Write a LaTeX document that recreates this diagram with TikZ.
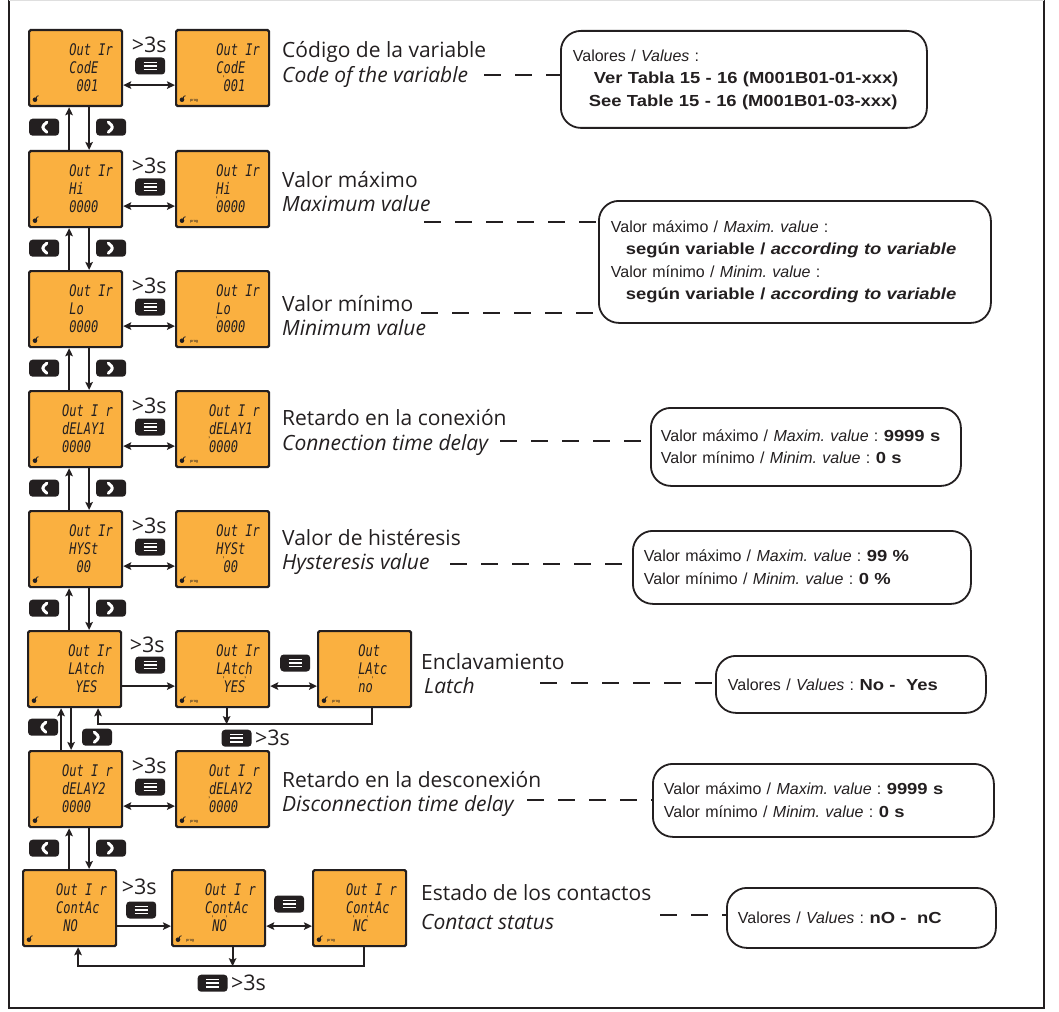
\documentclass[tikz,border=0pt]{standalone}
\usepackage{fontspec}
\setmainfont{Liberation Sans}[BoldFeatures={FakeStretch=1.15}, BoldItalicFeatures={FakeStretch=1.15}]
\newfontfamily\labelfont{Open Sans}
\newfontfamily\lcdfont{DejaVu Sans Mono}[FakeStretch=0.75]
\usetikzlibrary{arrows.meta, positioning}
\frenchspacing

\definecolor{lcdorange}{RGB}{250,176,64}
\definecolor{keyblack}{RGB}{35,31,32}
\definecolor{inkgray}{RGB}{35,31,32}

\tikzset{
    lcd/.style={rectangle, rounded corners=1.5pt, draw=inkgray, line width=2.2pt, fill=lcdorange, minimum width=93pt, minimum height=76pt, inner sep=0pt},
    lcdtext/.style={font=\lcdfont\itshape\fontsize{16}{18}\selectfont, align=left, inner sep=0pt, text=inkgray},
    progtext/.style={font=\fontsize{4}{4}\selectfont, inner sep=0pt, text=inkgray},
    menubtn/.style={rectangle, rounded corners=3.5pt, fill=keyblack, minimum width=30pt, minimum height=17pt, inner sep=0pt,
        path picture={\foreach \dy in {-3.6,0,3.6}{\draw[white, line width=1.5pt] ([xshift=-6.5pt, yshift=\dy pt]path picture bounding box.center) -- ([xshift=6.5pt, yshift=\dy pt]path picture bounding box.center);}}},
    prevbtn/.style={rectangle, rounded corners=3.5pt, fill=keyblack, minimum width=30pt, minimum height=17pt, inner sep=0pt,
        path picture={\draw[white, line width=3pt, line cap=round, line join=round] ([xshift=2.8pt, yshift=5pt]path picture bounding box.center) -- ([xshift=-2.8pt]path picture bounding box.center) -- ([xshift=2.8pt, yshift=-5pt]path picture bounding box.center);}},
    nextbtn/.style={rectangle, rounded corners=3.5pt, fill=keyblack, minimum width=30pt, minimum height=17pt, inner sep=0pt,
        path picture={\draw[white, line width=3pt, line cap=round, line join=round] ([xshift=-2.8pt, yshift=5pt]path picture bounding box.center) -- ([xshift=2.8pt]path picture bounding box.center) -- ([xshift=-2.8pt, yshift=-5pt]path picture bounding box.center);}},
    holdtext/.style={font=\labelfont\fontsize{21.5}{21.5}\selectfont, inner sep=0pt, text=inkgray},
    lbl/.style={font=\labelfont\fontsize{21}{24.5}\selectfont, align=left, anchor=west, inner sep=0pt, text=inkgray},
    infobox/.style={rectangle, rounded corners=20pt, draw=inkgray, line width=1.8pt, align=left, anchor=north west, font=\fontsize{16}{22.5}\selectfont, text=inkgray},
    arrow/.style={draw=inkgray, line width=1.8pt, -{Stealth[length=8pt, width=7.5pt, inset=1.5pt]}},
    dblarrow/.style={draw=inkgray, line width=1.8pt, {Stealth[length=8pt, width=7.5pt, inset=1.5pt]}-{Stealth[length=8pt, width=7.5pt, inset=1.5pt]}},
    dashline/.style={draw=inkgray, line width=2pt, dash pattern=on 17pt off 14pt},
    frameline/.style={draw=inkgray, line width=2.5pt}
}

% blinking tick on a display digit
\newcommand{\blnk}{\makebox[0pt]{\raisebox{0.6em}{\normalfont\fontsize{8}{8}\selectfont'}}}

% display panel: [prog]{name}{top-left}{lines}
\newcommand{\lcdpanel}[4][]{%
    \node[lcd, anchor=north west] (#2) at (#3) {};
    \node[lcdtext, anchor=north west] (#2txt) at ([xshift=34pt, yshift=-14pt]#2.north west) {#4};
    \fill[inkgray] ([xshift=7pt, yshift=7.5pt]#2.south west) circle (2.3pt);
    \draw[inkgray, line width=0.8pt] ([xshift=8.2pt, yshift=9.2pt]#2.south west) to[bend left=40] ([xshift=10.5pt, yshift=11.5pt]#2.south west);
    \if\relax\detokenize{#1}\relax\else
    \node[progtext, anchor=west] at ([xshift=15pt, yshift=6.5pt]#2.south west) {#1};
    \fi
}

\begin{document}
\begin{tikzpicture}[x=1pt, y=-1pt]
    \useasboundingbox (0,0) rectangle (1059,1011);

    % Frame
    \draw[frameline] (9,0) -- (9,1008) -- (1044,1008) -- (1044,0);
    \draw[gray!25, line width=1pt] (9,0.8) -- (1044,0.8);

    % Displays
    \lcdpanel{a1}{28,29}{~Out Ir\\~CodE\\~~001}
    \lcdpanel[prog]{b1}{175,29}{~Out Ir\\~CodE\\~~\blnk 001}
    \lcdpanel{a2}{28,150}{~Out Ir\\~Hi\\~0000}
    \lcdpanel[prog]{b2}{175,150}{~Out Ir\\~Hi\\~\blnk 0000}
    \lcdpanel{a3}{28,270}{~Out Ir\\~Lo\\~0000}
    \lcdpanel[prog]{b3}{175,270}{~Out Ir\\~Lo\\~\blnk 0000}
    \lcdpanel{a4}{28,390}{Out I r\\dELAY1\\0000}
    \lcdpanel[prog]{b4}{175,390}{Out I r\\dELAY1\\\blnk 0000}
    \lcdpanel{a5}{28,510}{~Out Ir\\~HYSt\\~~00}
    \lcdpanel[prog]{b5}{175,510}{~Out Ir\\~HYSt\\~~\blnk 00}
    \lcdpanel{a6}{27,630}{~Out Ir\\~LAtch\\~~YES}
    \lcdpanel[prog]{b6}{175,630}{~Out Ir\\~LAtch\\~~\blnk YES\blnk}
    \lcdpanel[prog]{c6}{317,630}{~Out\\~LAtc\\~\blnk no\blnk}
    \lcdpanel{a7}{28,750}{Out I r\\dELAY2\\0000}
    \lcdpanel[prog]{b7}{175,750}{Out I r\\dELAY2\\\blnk 0000}
    \lcdpanel{a8}{22,869}{Out I r\\ContAc\\~NO}
    \lcdpanel[prog]{b8}{171,869}{Out I r\\ContAc\\~\blnk NO\blnk}
    \lcdpanel[prog]{c8}{312,869}{Out I r\\ContAc\\~\blnk NC\blnk}

    % Navigation between parameters
    \foreach \i/\j in {1/2,2/3,3/4,4/5,5/6,7/8}{
        \draw[arrow] ([xshift=-6.5pt]a\i.south |- a\j.north) -- ([xshift=-6.5pt]a\i.south);
        \draw[arrow] ([xshift=13.5pt]a\i.south) -- ([xshift=13.5pt]a\i.south |- a\j.north);
        \node[prevbtn] (prev\i) at ([xshift=-31.5pt, yshift=-20pt]a\i.south) {};
        \node[nextbtn] (next\i) at ([xshift=35.5pt, yshift=-20pt]a\i.south) {};
    }
    \draw[arrow] ([xshift=-13.5pt]a6.south |- a7.north) -- ([xshift=-13.5pt]a6.south);
    \draw[arrow] ([xshift=-3.5pt]a6.south) -- ([xshift=-3.5pt]a6.south |- a7.north);
    \node[prevbtn] (prev6) at ([xshift=-31.5pt, yshift=-19pt]a6.south) {};
    \node[nextbtn] (next6) at ([xshift=22.5pt, yshift=-29pt]a6.south) {};

    % Editing (>3s)
    \foreach \i in {1,2,3,4,5,7}{
        \node[holdtext] (hold\i) at ([xshift=26pt, yshift=-16pt]a\i.north east) {>3s};
        \node[menubtn] (menu\i) at ([xshift=27pt, yshift=-37pt]a\i.north east) {};
        \draw[dblarrow] ([yshift=-17pt]a\i.east) -- ([yshift=-17pt]b\i.west);
    }

    % Latch
    \node[holdtext] (hold6) at ([xshift=25pt, yshift=-15pt]a6.north east) {>3s};
    \node[menubtn] (menu6) at ([xshift=28pt, yshift=-35pt]a6.north east) {};
    \draw[arrow] ([yshift=-17pt]a6.east) -- ([yshift=-17pt]b6.west);
    \node[menubtn] (menu6b) at ([xshift=25pt, yshift=-33pt]b6.north east) {};
    \draw[dblarrow] ([yshift=-17pt]b6.east) -- ([yshift=-17pt]c6.west);
    \draw[arrow] ([xshift=4pt]b6.south) -- ++(0,16);
    \draw[arrow] ([xshift=7pt]c6.south) -- ++(0,16) -| ([xshift=23.5pt]a6.south);
    \node[menubtn] (menu6c) at ([xshift=14pt, yshift=-30pt]b6.south) {};
    \node[holdtext, right=3pt of menu6c] (hold6c) {>3s};

    % Contacts
    \node[holdtext] (hold8) at ([xshift=22pt, yshift=-18pt]a8.north east) {>3s};
    \node[menubtn] (menu8) at ([xshift=24pt, yshift=-41pt]a8.north east) {};
    \draw[arrow] ([yshift=-18pt]a8.east) -- ([yshift=-18pt]b8.west);
    \node[menubtn] (menu8b) at ([xshift=23pt, yshift=-35pt]b8.north east) {};
    \draw[dblarrow] ([yshift=-18pt]b8.east) -- ([yshift=-18pt]c8.west);
    \draw[arrow] ([xshift=14pt]b8.south) -- ++(0,19);
    \draw[arrow] ([xshift=4.5pt]c8.south) -- ++(0,19) -| ([xshift=8.5pt]a8.south);
    \node[menubtn] (menu8c) at ([xshift=-6pt, yshift=-36pt]b8.south) {};
    \node[holdtext, right=3pt of menu8c] (hold8c) {>3s};

    % Parameter names
    \node[lbl] (name1) at (282,64.5) {Código de la variable\\\textit{Code of the variable}};
    \node[lbl] (name2) at (282,191.5) {Valor máximo\\\textit{Maximum value}};
    \node[lbl] (name3) at (282,315.5) {Valor mínimo\\\textit{Minimum value}};
    \node[lbl] (name4) at (282,432.5) {Retardo en la conexión\\\textit{Connection time delay}};
    \node[lbl] (name5) at (282,552) {Valor de histéresis\\\textit{Hysteresis value}};
    \node[lbl] (name6) at (421,673.5) {Enclavamiento\\\hspace*{3pt}\textit{Latch}};
    \node[lbl] (name7) at (282,794) {Retardo en la desconexión\\\textit{Disconnection time delay}};
    \node[lbl] (name8) at (421,907.5) {Estado de los contactos\\[4.5pt]\textit{Contact status}};

    % Values
    \node[infobox, inner xsep=12pt, text width=342pt, minimum height=97pt] (val1) at (560,30)
        {Valores / \textit{Values} :\\\hspace*{21pt}\textbf{Ver Tabla 15 - 16 (M001B01-01-xxx)}\\\hspace*{16pt}\textbf{See Table 15 - 16 (M001B01-03-xxx)}};
    \node[infobox, inner xsep=12pt, text width=368pt, minimum height=122pt] (val2) at (598,200)
        {Valor máximo / \textit{Maxim. value} :\\\hspace*{15pt}\textbf{según variable / \textit{according to variable}}\\Valor mínimo / \textit{Minim. value} :\\\hspace*{15pt}\textbf{según variable / \textit{according to variable}}};
    \node[infobox, inner xsep=10pt, text width=290pt, minimum height=78pt] (val4) at (650,407)
        {Valor máximo / \textit{Maxim. value} : \textbf{9999 s}\\Valor mínimo / \textit{Minim. value} : \textbf{0 s}};
    \node[infobox, inner xsep=11pt, text width=316pt, minimum height=73pt] (val5) at (632,530)
        {Valor máximo / \textit{Maxim. value} : \textbf{99 \%}\\Valor mínimo / \textit{Minim. value} : \textbf{0 \%}};
    \node[infobox, inner xsep=12pt, text width=246pt, minimum height=57pt] (val6) at (715,655)
        {Valores / \textit{Values} : \textbf{No -~ Yes}};
    \node[infobox, inner xsep=11pt, text width=319pt, minimum height=73pt] (val7) at (652,763)
        {Valor máximo / \textit{Maxim. value} : \textbf{9999 s}\\Valor mínimo / \textit{Minim. value} : \textbf{0 s}};
    \node[infobox, inner xsep=11pt, text width=247pt, minimum height=60pt] (val8) at (726,887)
        {Valores / \textit{Values} : \textbf{nO -~ nC}};

    % Dashed links
    \coordinate (link1) at (484,75);
    \coordinate (link2) at (424,222);
    \coordinate (link3) at (421,313);
    \coordinate (link4) at (500,441);
    \coordinate (link5) at (450,564);
    \coordinate (link6) at (540,683);
    \coordinate (link7) at (527,800);
    \coordinate (link8) at (660,915);
    \draw[dashline] (link1) -- (val1.west |- link1);
    \draw[dashline] (link2) -- (val2.west |- link2);
    \draw[dashline] (link3) -- (val2.west |- link3);
    \draw[dashline] (link4) -- (val4.west |- link4);
    \draw[dashline] (link5) -- (val5.west |- link5);
    \draw[dashline] (link6) -- (val6.west |- link6);
    \draw[dashline] (link7) -- (val7.west |- link7);
    \draw[dashline] (link8) -- (val8.west |- link8);

\end{tikzpicture}
\end{document}
